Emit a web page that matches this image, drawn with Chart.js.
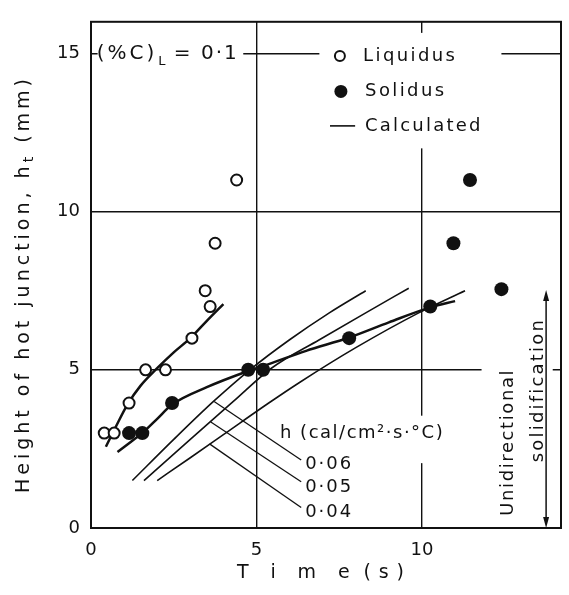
<!DOCTYPE html>
<html>
<head>
<meta charset="utf-8">
<script src="https://cdn.jsdelivr.net/npm/chart.js@4.4.1/dist/chart.umd.min.js"></script>
<style>
  html, body { margin: 0; padding: 0; background: #fff; }
  canvas { display: block; }
</style>
</head>
<body>
<canvas id="chart" width="569" height="595"></canvas>
<script>
// Measured hot-junction heights (time in s, height in mm)
const liquidusTime   = [0.4, 0.7, 1.15, 1.65, 2.25, 3.05, 3.45, 3.6, 3.75, 4.4];
const liquidusHeight = [3.0, 3.0, 3.95, 5.0, 5.0, 6.0, 7.5, 7.0, 9.0, 11.0];
const solidusTime    = [1.15, 1.55, 2.45, 4.75, 5.2, 7.8, 10.25, 10.95, 11.45, 12.4];
const solidusHeight  = [3.0, 3.0, 3.95, 5.0, 5.0, 6.0, 7.0, 9.0, 11.0, 7.55];

// Hand-drawn fits through the measured points
const liqFitTime   = [0.45, 0.75, 1.1, 1.5, 2.0, 2.5, 3.0, 3.5, 4.0];
const liqFitHeight = [2.57, 3.2, 3.9, 4.5, 5.05, 5.55, 6.0, 6.55, 7.08];
const solFitTime   = [0.8, 1.2, 1.55, 2.0, 2.45, 3.5, 4.77, 5.2, 6.5, 7.8, 9.0, 10.27, 11.0];
const solFitHeight = [2.4, 2.72, 3.0, 3.45, 3.9, 4.45, 4.97, 5.12, 5.6, 6.02, 6.5, 6.98, 7.17];

// Calculated curves for h = 0.06, 0.05, 0.04 cal/cm2.s.C
const calc06Time   = [1.25, 2.5, 3.7, 4.8, 6.0, 7.2, 8.3];
const calc06Height = [1.5, 2.8, 4.0, 5.0, 5.95, 6.8, 7.5];
const calc05Time   = [1.6, 3.0, 4.3, 5.45, 6.9, 8.3, 9.6];
const calc05Height = [1.5, 2.8, 4.0, 5.05, 5.95, 6.8, 7.58];
const calc04Time   = [2.0, 3.0, 4.0, 5.37, 6.3, 8.0, 9.9, 11.3];
const calc04Height = [1.5, 2.22, 2.95, 3.95, 4.6, 5.7, 6.8, 7.5];

// Leader lines from each curve to its h label
const leader06Time = [3.72, 6.35], leader06Height = [4.0, 2.15];
const leader05Time = [3.62, 6.35], leader05Height = [3.35, 1.46];
const leader04Time = [3.58, 6.35], leader04Height = [2.66, 0.65];

const hLabels = ['0·06', '0·05', '0·04'];
const hLabelHeight = [2.0, 1.29, 0.48];

const xTicks = [0, 5, 10];
const yTicks = [0, 5, 10, 15];

const INK = '#111';
const FONT = "'DejaVu Sans', sans-serif";

const pts = (xs, ys) => xs.map((x, i) => ({ x: x, y: ys[i] }));

function lineSet(xs, ys, width, smooth) {
  return {
    data: pts(xs, ys),
    showLine: true,
    borderColor: INK,
    borderWidth: width,
    pointRadius: 0,
    cubicInterpolationMode: smooth ? 'monotone' : 'default',
    tension: 0,
    order: 5,
  };
}

// draws a run of text pieces (for subscripts, spaced lettering)
function drawParts(ctx, parts, x, y, rotate, align) {
  ctx.save();
  ctx.translate(x, y);
  if (rotate) ctx.rotate(rotate);
  ctx.textBaseline = 'middle';
  ctx.textAlign = 'left';
  ctx.fillStyle = INK;
  let total = 0;
  const widths = parts.map(p => {
    ctx.font = p.size + 'px ' + FONT;
    ctx.letterSpacing = (p.ls || 0) + 'px';
    const w = ctx.measureText(p.text).width + (p.gap || 0);
    total += w;
    return w;
  });
  let cx = align === 'center' ? -total / 2 : 0;
  parts.forEach((p, i) => {
    ctx.font = p.size + 'px ' + FONT;
    ctx.letterSpacing = (p.ls || 0) + 'px';
    ctx.fillText(p.text, cx + (p.gap || 0), p.dy || 0);
    cx += widths[i];
  });
  ctx.restore();
}

const annotations = {
  id: 'annotations',
  beforeDatasetsDraw(chart) {
    const ctx = chart.ctx;
    const sx = v => chart.scales.x.getPixelForValue(v);
    const sy = v => chart.scales.y.getPixelForValue(v);
    const area = chart.chartArea;

    // gaps in the grid behind the lettering
    ctx.save();
    ctx.fillStyle = '#fff';
    const gap = (x0, x1, y0, y1) => ctx.fillRect(sx(x0), sy(y1), sx(x1) - sx(x0), sy(y0) - sy(y1));
    gap(0.2, 4.6, 14.2, 15.6);
    gap(6.9, 12.4, 12.0, 15.65);
    gap(9.6, 10.4, 2.05, 3.55);
    gap(11.8, 13.95, 0.02, 7.6);
    ctx.restore();

    // frame
    ctx.save();
    ctx.strokeStyle = INK;
    ctx.lineWidth = 2;
    ctx.strokeRect(area.left, area.top, area.right - area.left, area.bottom - area.top);
    ctx.restore();

    // composition label
    drawParts(ctx, [
      { text: '(%C)', size: 20, ls: 3 },
      { text: 'L', size: 13, ls: 0, dy: 8, gap: 1 },
      { text: ' = 0·1', size: 20, ls: 2 },
    ], sx(0.17), sy(15.0), 0, 'left');

    // legend
    ctx.save();
    ctx.strokeStyle = INK;
    ctx.fillStyle = '#fff';
    ctx.lineWidth = 2;
    ctx.beginPath();
    ctx.arc(sx(7.52), sy(14.92), 5, 0, Math.PI * 2);
    ctx.fill();
    ctx.stroke();
    ctx.fillStyle = INK;
    ctx.beginPath();
    ctx.arc(sx(7.55), sy(13.8), 6.5, 0, Math.PI * 2);
    ctx.fill();
    ctx.lineWidth = 1.6;
    ctx.beginPath();
    ctx.moveTo(sx(7.22), sy(12.71));
    ctx.lineTo(sx(7.98), sy(12.71));
    ctx.stroke();
    ctx.restore();
    drawParts(ctx, [{ text: 'Liquidus', size: 18, ls: 2.4 }], sx(8.22), sy(14.92), 0, 'left');
    drawParts(ctx, [{ text: 'Solidus', size: 18, ls: 2.4 }], sx(8.28), sy(13.8), 0, 'left');
    drawParts(ctx, [{ text: 'Calculated', size: 18, ls: 2.2 }], sx(8.28), sy(12.71), 0, 'left');

    // heat transfer coefficient labels
    drawParts(ctx, [{ text: 'h (cal/cm²·s·°C)', size: 18, ls: 1.5 }], sx(5.71), sy(3.0), 0, 'left');
    hLabels.forEach((t, i) => {
      drawParts(ctx, [{ text: t, size: 18, ls: 2 }], sx(6.47), sy(hLabelHeight[i]), 0, 'left');
    });

    // unidirectional solidification note with double arrow
    drawParts(ctx, [{ text: 'Unidirectional', size: 18, ls: 1.6 }], sx(12.6), sy(2.71), -Math.PI / 2, 'center');
    drawParts(ctx, [{ text: 'solidification', size: 18, ls: 2.2 }], sx(13.5), sy(4.36), -Math.PI / 2, 'center');
    ctx.save();
    ctx.strokeStyle = INK;
    ctx.fillStyle = INK;
    ctx.lineWidth = 1.5;
    const ax = sx(13.75), aTop = sy(7.52), aBot = sy(0);
    ctx.beginPath();
    ctx.moveTo(ax, aTop + 4);
    ctx.lineTo(ax, aBot - 4);
    ctx.stroke();
    ctx.beginPath();
    ctx.moveTo(ax, aTop); ctx.lineTo(ax - 3, aTop + 11); ctx.lineTo(ax + 3, aTop + 11); ctx.closePath();
    ctx.moveTo(ax, aBot); ctx.lineTo(ax - 3, aBot - 11); ctx.lineTo(ax + 3, aBot - 11); ctx.closePath();
    ctx.fill();
    ctx.restore();

    // axis titles
    drawParts(ctx, [
      { text: 'Height of hot junction, h', size: 19, ls: 4 },
      { text: 't', size: 14, ls: 4, dy: 5 },
      { text: ' (mm)', size: 19, ls: 4 },
    ], 24, 284, -Math.PI / 2, 'center');
    drawParts(ctx, [
      { text: 'T i m e', size: 19, ls: 7.9 },
      { text: '(s)', size: 19, ls: 7.9, gap: 6 },
    ], 237, 573, 0, 'left');
  },
};

new Chart(document.getElementById('chart'), {
  type: 'scatter',
  data: {
    datasets: [
      {
        data: pts(solidusTime, solidusHeight),
        pointRadius: 7,
        pointBackgroundColor: INK,
        pointBorderColor: INK,
        pointBorderWidth: 0,
        order: 0,
      },
      {
        data: pts(liquidusTime, liquidusHeight),
        pointRadius: 5.5,
        pointBackgroundColor: '#fff',
        pointBorderColor: INK,
        pointBorderWidth: 2,
        order: 1,
      },
      lineSet(liqFitTime, liqFitHeight, 2.5, true),
      lineSet(solFitTime, solFitHeight, 2.5, true),
      lineSet(calc06Time, calc06Height, 1.6, true),
      lineSet(calc05Time, calc05Height, 1.6, true),
      lineSet(calc04Time, calc04Height, 1.6, true),
      lineSet(leader06Time, leader06Height, 1.3, false),
      lineSet(leader05Time, leader05Height, 1.3, false),
      lineSet(leader04Time, leader04Height, 1.3, false),
    ],
  },
  options: {
    responsive: false,
    animation: false,
    devicePixelRatio: 1,
    layout: { padding: { top: 12, right: 8, left: 0, bottom: 0 } },
    plugins: { legend: { display: false }, tooltip: { enabled: false } },
    scales: {
      x: {
        type: 'linear',
        min: 0,
        max: 14.2,
        afterFit: s => { s.height = 67; },
        afterBuildTicks: s => { s.ticks = xTicks.map(v => ({ value: v })); },
        ticks: { color: INK, font: { family: FONT, size: 18 }, padding: 12, maxRotation: 0 },
        grid: { color: INK, lineWidth: 1.4, drawTicks: false },
        border: { color: INK, width: 2 },
      },
      y: {
        type: 'linear',
        min: 0,
        max: 16,
        afterFit: s => { s.width = 91; },
        afterBuildTicks: s => { s.ticks = yTicks.map(v => ({ value: v })); },
        ticks: { color: INK, font: { family: FONT, size: 18 }, padding: 11 },
        grid: { color: INK, lineWidth: 1.4, drawTicks: false },
        border: { color: INK, width: 2 },
      },
    },
  },
  plugins: [annotations],
});
</script>
</body>
</html>
